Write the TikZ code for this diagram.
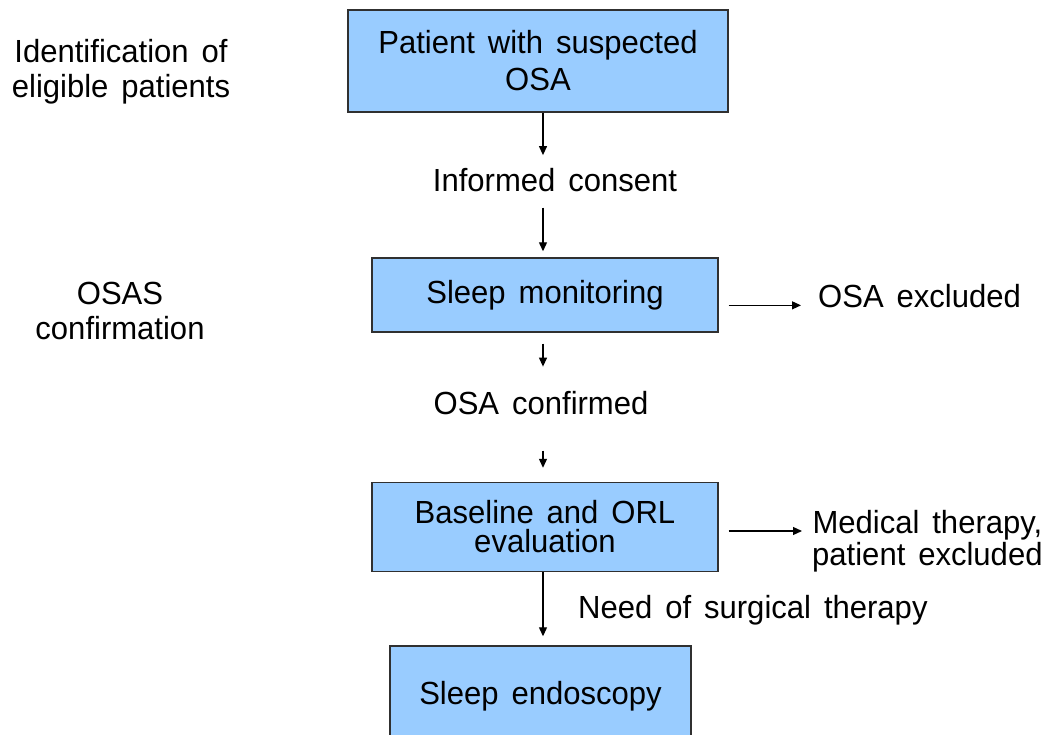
\documentclass[tikz,border=0pt]{standalone}
\usepackage{fontspec}
\setmainfont[FakeStretch=0.97, WordSpace=1.5]{Liberation Sans}
\usetikzlibrary{arrows.meta}
\definecolor{boxfill}{HTML}{99CCFF}
\definecolor{boxline}{HTML}{303030}
\begin{document}
\begin{tikzpicture}[x=1pt,y=-1pt,
  every node/.style={inner sep=0pt, text=black, font=\fontsize{32}{36}\selectfont},
  stagebox/.style={draw=boxline, line width=1.4pt, fill=boxfill, rectangle},
  flow/.style={draw=black, line width=1.2pt, -{Triangle[length=9pt,width=8pt]}},
]
\clip (0,0) rectangle (1053,735);
\fill[white] (0,0) rectangle (1053,735);

% column of the vertical connectors
\coordinate (col) at (543,0);

% stage boxes
\node[stagebox, minimum width=380pt, minimum height=102pt, align=center,
      font=\fontsize{32}{37}\selectfont] (b1) at (538,61)
      {Patient with suspected\\OSA};
\node[stagebox, minimum width=346pt, minimum height=74pt] (b2) at (545,295)
      {Sleep monitoring};
\node[stagebox, minimum width=346pt, minimum height=89pt, align=center,
      font=\fontsize{32}{29}\selectfont] (b3) at (545,527)
      {Baseline and ORL\\evaluation};
\node[stagebox, minimum width=301pt, minimum height=100pt] (b4) at (540.5,696)
      {Sleep endoscopy};

% intermediate labels
\node[anchor=base] (consent) at (555,192) {Informed consent};
\node[anchor=base] (confirmed) at (541,415) {OSA confirmed};
\node[anchor=base west] (excluded) at (818,308) {OSA excluded};
\node[anchor=north west, align=center, font=\fontsize{32}{32}\selectfont]
      (medical) at (812,510) {Medical therapy,\\patient excluded};
\node[anchor=base west] (need) at (578,618) {Need of surgical therapy};

% phase labels on the left
\node[anchor=north, align=center, font=\fontsize{32}{35}\selectfont]
      (phase1) at (121,39) {Identification of\\eligible patients};
\node[anchor=north, align=center, font=\fontsize{32}{35}\selectfont]
      (phase2) at (120,282) {OSAS\\confirmation};

% vertical flow
\draw[flow, shorten >=13.5pt] (b1.south -| col) -- (consent.north -| col);
\draw[flow, shorten <=15pt, shorten >=6pt] (consent.south -| col) -- (b2.north -| col);
\draw[flow, shorten <=11pt, shorten >=25pt] (b2.south -| col) -- (confirmed.north -| col);
\draw[flow, shorten <=35pt, shorten >=14pt] (confirmed.south -| col) -- (b3.north -| col);
\draw[flow, shorten >=9pt] (b3.south -| col) -- (b4.north -| col);

% exits to the right
\draw[flow, shorten <=10pt, shorten >=17pt] (b2.east |- excluded.mid west) -- (excluded.mid west);
\draw[flow, shorten <=10pt, shorten >=10pt] ([yshift=-4pt]b3.east) -- ([yshift=-4pt]b3.east -| medical.west);
\end{tikzpicture}
\end{document}
